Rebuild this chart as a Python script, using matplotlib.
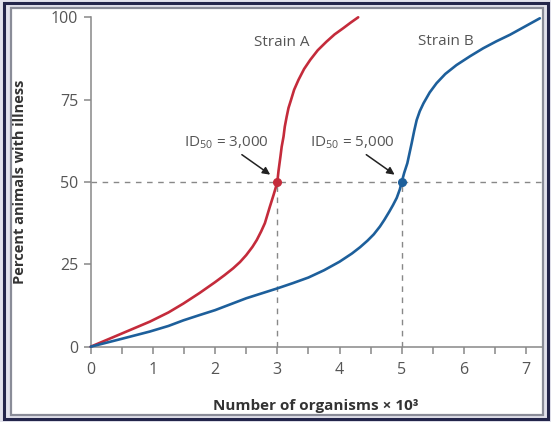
import matplotlib
matplotlib.use("Agg")
import matplotlib.pyplot as plt
from matplotlib.patches import Rectangle

plt.rcParams['font.family'] = ['Open Sans', 'DejaVu Sans']

# points (x in thousands of organisms, y in percent)
strain_a_x = [0, 0.5, 0.95, 1.25, 1.49, 1.75, 2.0, 2.15, 2.29, 2.4, 2.5, 2.6, 2.67, 2.74,
              2.80, 2.88, 2.94, 2.97, 3.0, 3.02, 3.05, 3.07, 3.10, 3.12, 3.15, 3.18, 3.22,
              3.27, 3.34, 3.43, 3.53, 3.65, 3.79, 3.92, 4.06, 4.18, 4.30]
strain_a_y = [0, 4.0, 7.6, 10.4, 13.1, 16.3, 19.6, 21.7, 23.8, 25.7, 27.8, 30.3, 32.4, 35.0,
              37.5, 42.5, 46.1, 48.0, 50.0, 53.5, 57.7, 60.7, 63.8, 66.8, 69.8, 72.5, 74.9,
              78.0, 81.0, 84.3, 87.1, 90.0, 92.6, 94.8, 96.7, 98.4, 100]
strain_b_x = [0, 0.5, 0.95, 1.25, 1.49, 1.75, 2.0, 2.25, 2.5, 2.75, 3.0, 3.25, 3.5, 3.75,
              4.0, 4.2, 4.33, 4.45, 4.55, 4.65, 4.72, 4.8, 4.86, 4.92, 4.97, 5.0, 5.04,
              5.09, 5.16, 5.2, 5.24, 5.29, 5.35, 5.45, 5.56, 5.7, 5.88, 6.1, 6.31, 6.52,
              6.74, 6.98, 7.22]
strain_b_y = [0, 2.4, 4.6, 6.3, 8.0, 9.6, 11.1, 12.9, 14.7, 16.2, 17.7, 19.3, 21.0, 23.2,
              25.8, 28.3, 30.2, 32.2, 34.1, 36.5, 38.5, 41.0, 43.0, 45.2, 47.8, 50.0, 52.8,
              55.7, 61.8, 65.5, 68.8, 71.5, 73.9, 77.2, 80.0, 82.8, 85.5, 88.2, 90.6, 92.7,
              94.7, 97.2, 99.7]

id50_a = 3.0
id50_b = 5.0
x_ticks = [0, 1, 2, 3, 4, 5, 6, 7]
x_minor = [0.5, 1.5, 2.5, 3.5, 4.5, 5.5, 6.5]
y_ticks = [0, 25, 50, 75, 100]

RED = '#c42b3b'
BLUE = '#1d5f9b'
GRAY = '#888888'
TEXT = '#555555'

fig = plt.figure(figsize=(5.51, 4.22), dpi=100, facecolor='#e2e2ec')
W, H = 551, 422

# picture frame
fig.patches.append(Rectangle((4 / W, 3 / H), (W - 7) / W, (H - 6) / H, transform=fig.transFigure,
                             facecolor='none', edgecolor='#23254a', linewidth=2.2, zorder=-3))
fig.patches.append(Rectangle((11 / W, 7 / H), (W - 19) / W, (H - 15) / H, transform=fig.transFigure,
                             facecolor='white', edgecolor='#8a8c98', linewidth=1.6, zorder=-2))

ax = fig.add_axes([90.7 / W, (H - 346.7) / H, 451 / W, 329.4 / H])
ax.set_facecolor('none')

ax.plot(strain_a_x, strain_a_y, color=RED, linewidth=1.9, solid_capstyle='round',
        solid_joinstyle='round', clip_on=False, zorder=3)
ax.plot(strain_b_x, strain_b_y, color=BLUE, linewidth=1.9, solid_capstyle='round',
        solid_joinstyle='round', clip_on=False, zorder=3)

# 50 % guide lines
ax.axhline(50, color=GRAY, linewidth=1.0, dashes=(4, 4), zorder=1)
ax.plot([id50_a, id50_a], [0, 50], color=GRAY, linewidth=1.0, dashes=(4, 4), zorder=1)
ax.plot([id50_b, id50_b], [0, 50], color=GRAY, linewidth=1.0, dashes=(4, 4), zorder=1)

ax.plot([id50_a], [50], 'o', color=RED, markersize=5.5, zorder=4)
ax.plot([id50_b], [50], 'o', color=BLUE, markersize=5.5, zorder=4)

arrow = dict(arrowstyle='-|>', color='#222222', linewidth=1.1, mutation_scale=11, shrinkA=0, shrinkB=3)
ax.annotate('', xy=(id50_a - 0.06, 51.5), xytext=(2.43, 58.3), arrowprops=arrow)
ax.annotate('', xy=(id50_b - 0.06, 51.5), xytext=(4.43, 58.3), arrowprops=arrow)
ax.text(2.18, 62, '$\\mathregular{ID_{50}}$ = 3,000', color=TEXT, fontsize=11, ha='center', va='center')
ax.text(4.2, 62, '$\\mathregular{ID_{50}}$ = 5,000', color=TEXT, fontsize=11, ha='center', va='center')

ax.text(3.07, 92.2, 'Strain A', color=TEXT, fontsize=11, ha='center', va='center')
ax.text(5.71, 92.6, 'Strain B', color=TEXT, fontsize=11, ha='center', va='center')

ax.set_xticks(x_ticks)
ax.set_xticks(x_minor, minor=True)
ax.set_yticks(y_ticks)
ax.set_xlim(0, 7.25)
ax.set_ylim(0, 100)

for side in ['top', 'right']:
    ax.spines[side].set_visible(False)
for side in ['left', 'bottom']:
    ax.spines[side].set_color(GRAY)
    ax.spines[side].set_linewidth(1.1)

ax.tick_params(axis='both', which='both', direction='out', length=5, width=1.1, color=GRAY,
               labelcolor=TEXT, labelsize=11.5)
ax.tick_params(axis='x', pad=6)
ax.tick_params(axis='y', pad=4)

ax.set_xlabel('Number of organisms × 10³', fontsize=11, fontweight='bold', color='#333333', labelpad=15)
ax.set_ylabel('Percent animals with illness', fontsize=10.5, fontweight='bold', color='#333333', labelpad=0)
ax.yaxis.set_label_coords(-64 / 451, 0.5)

fig.savefig('out.png', dpi=100, facecolor=fig.get_facecolor())
